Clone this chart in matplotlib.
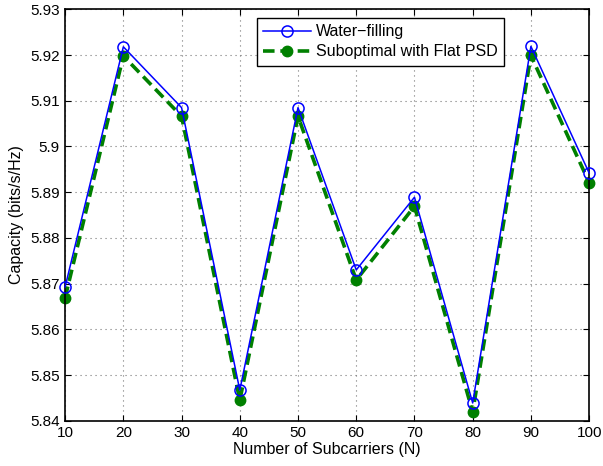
import numpy as np
import matplotlib
matplotlib.use("Agg")
import matplotlib.pyplot as plt

plt.rcParams['font.family'] = ['Liberation Sans', 'DejaVu Sans']

# subcarriers and capacities
N = [10, 20, 30, 40, 50, 60, 70, 80, 90, 100]
water = [5.8693, 5.9218, 5.9085, 5.8467, 5.9085, 5.8730, 5.8889, 5.8439, 5.9219, 5.8942]
flat = [5.8669, 5.9198, 5.9066, 5.8445, 5.9066, 5.8708, 5.8869, 5.8419, 5.9199, 5.8921]

fig = plt.figure(figsize=(6.03, 4.66), dpi=100)
ax = fig.add_axes([0.108, 0.097, 0.869, 0.883])

ax.plot(N, water, '-o', color='#0000ff', lw=1.1, ms=8, mfc='none', mec='#0000ff',
        mew=1.1, label='Water\u2212filling', zorder=3, clip_on=False)
ax.plot(N, flat, '--o', color='#008000', lw=2.6, ms=7.5, mfc='#008000', mec='#008000',
        dashes=(3.2, 1.6), label='Suboptimal with Flat PSD', zorder=2, clip_on=False)

ax.set_xlim(10, 100)
ax.set_ylim(5.84, 5.93)
ax.set_xticks(np.arange(10, 101, 10))
ax.set_yticks(np.arange(5.84, 5.9301, 0.01))
ax.set_yticklabels(['5.84', '5.85', '5.86', '5.87', '5.88', '5.89', '5.9', '5.91', '5.92', '5.93'])
ax.grid(True, ls=(0, (1, 3.5)), color='#777777', lw=0.8)
ax.tick_params(direction='in', top=True, right=True, labelsize=11, length=4, pad=4)
for s in ax.spines.values():
    s.set_linewidth(1.2)

ax.set_xlabel('Number of Subcarriers (N)', fontsize=11.5, labelpad=1)
ax.set_ylabel('Capacity (bits/s/Hz)', fontsize=11.5, labelpad=4)

leg = ax.legend(loc='upper left', bbox_to_anchor=(0.366, 0.979), fontsize=11.5,
                fancybox=False, framealpha=1, edgecolor='black', handlelength=3.0,
                borderpad=0.4, labelspacing=0.3, handletextpad=0.3, borderaxespad=0)
leg.get_frame().set_linewidth(1.0)

fig.savefig('out.png', dpi=100)
